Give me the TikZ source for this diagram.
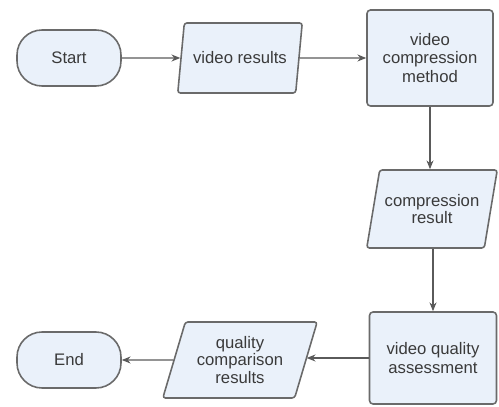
\documentclass[tikz,border=0pt]{standalone}
\usepackage{fontspec}
\setmainfont{Liberation Sans}
\usetikzlibrary{shapes.geometric,arrows.meta}
\definecolor{boxfill}{HTML}{EAF1FA}
\definecolor{boxline}{HTML}{6A6A6A}
\definecolor{arrowline}{HTML}{5A5A5A}
\definecolor{boxtext}{HTML}{3A3A3A}
\tikzset{
  terminal/.style={draw=boxline, fill=boxfill, text=boxtext, line width=0.9pt, rounded corners=0.5cm,
    minimum width=2.08cm, minimum height=1.12cm, font=\fontsize{9.5}{10}\selectfont},
  iobox/.style={draw=boxline, fill=boxfill, text=boxtext, line width=0.9pt, rounded corners=1.5pt,
    trapezium, trapezium left angle=70, trapezium right angle=110, trapezium stretches=true,
    inner sep=1pt, align=center, font=\fontsize{9.5}{10}\selectfont},
  process/.style={draw=boxline, fill=boxfill, text=boxtext, line width=0.9pt, rounded corners=2pt,
    align=center, font=\fontsize{9.5}{10.5}\selectfont},
  flowline/.style={draw=arrowline, line width=0.6pt, -{Stealth[length=5pt,width=4pt]}}
}
\begin{document}
\begin{tikzpicture}
      \useasboundingbox (0,0) rectangle (9.98,8.14);

      \node[terminal] (start) at (1.38, 6.98) {Start};
      \node[iobox, minimum width=2.5cm, minimum height=1.4cm] (videores) at (4.8, 6.98) {video results};
      \node[process, minimum width=2.52cm, minimum height=1.92cm] (method) at (8.6, 6.98) {video\\compression\\method};
      \node[iobox, minimum width=2.62cm, minimum height=1.56cm] (compres) at (8.64, 3.96) {compression\\result};
      \node[process, minimum width=2.54cm, minimum height=1.84cm] (assess) at (8.66, 0.98) {video quality\\assessment};
      \node[iobox, minimum width=3.1cm, minimum height=1.52cm] (compare) at (4.8, 0.94) {quality\\comparison\\results};
      \node[terminal] (end) at (1.38, 0.94) {End};

      \draw[flowline] (start) -- (videores);
      \draw[flowline] (videores) -- (method);
      \draw[flowline] (method.south) -- (method.south |- compres.north);
      \draw[flowline] (compres.south -| assess.north) -- (assess.north);
      \draw[flowline] (assess.west) -- (assess.west -| compare.east);
      \draw[flowline] (compare) -- (end);
\end{tikzpicture}
\end{document}
